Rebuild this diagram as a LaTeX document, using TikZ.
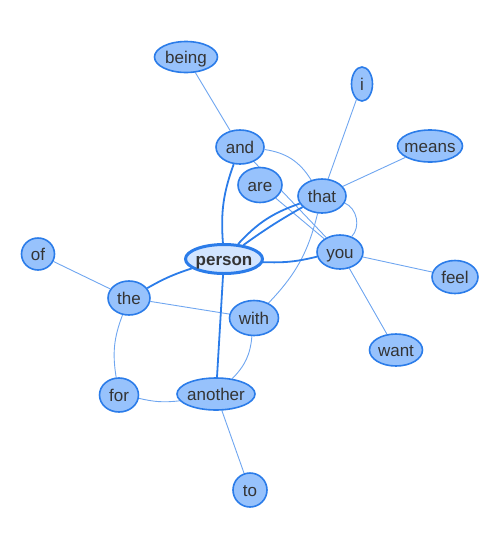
\documentclass[tikz,border=0pt]{standalone}
\usepackage{fontspec}
\setmainfont{Liberation Sans}
\usetikzlibrary{shapes.geometric}
\definecolor{nfill}{HTML}{97C2FC}
\definecolor{nborder}{HTML}{2B7CE9}
\definecolor{pfill}{HTML}{D2E5FF}
\definecolor{thinedge}{HTML}{6FA6F0}
\definecolor{txt}{HTML}{343434}
\pgfdeclarelayer{edges}
\pgfsetlayers{edges,main}
\tikzset{
  word/.style={ellipse, draw=nborder, fill=nfill, line width=1.6pt, inner sep=0pt,
    text height=13pt, text depth=0pt,
    text=txt, font=\fontsize{17}{19}\selectfont},
  hub/.style={word, fill=pfill, line width=3pt, font=\fontsize{17}{19}\selectfont\bfseries},
  strong/.style={draw=nborder, line width=1.8pt},
  weak/.style={draw=thinedge, line width=0.9pt},
}
\newcommand{\wordbox}[1]{\makebox[0pt]{#1}}
\begin{document}
\begin{tikzpicture}[x=1pt,y=-1pt]
\useasboundingbox (0,0) rectangle (500,550);
\node[word, minimum width=63pt, minimum height=31pt] (being) at (186,57) {\wordbox{being}};
\node[word, minimum width=21pt, minimum height=34pt] (i) at (362,84) {\wordbox{i}};
\node[word, minimum width=65pt, minimum height=32pt] (means) at (430,146) {\wordbox{means}};
\node[word, minimum width=48pt, minimum height=34pt] (and) at (240,147) {\wordbox{and}};
\node[word, minimum width=44pt, minimum height=35pt] (are) at (260,185) {\wordbox{are}};
\node[word, minimum width=48pt, minimum height=34pt] (that) at (322,196) {\wordbox{that}};
\node[word, minimum width=33pt, minimum height=32pt] (of) at (38,254) {\wordbox{of}};
\node[word, minimum width=46pt, minimum height=34pt] (you) at (340,252) {\wordbox{you}};
\node[word, minimum width=46pt, minimum height=33pt] (feel) at (455,277) {\wordbox{feel}};
\node[word, minimum width=42pt, minimum height=34pt] (the) at (129,298) {\wordbox{the}};
\node[word, minimum width=49pt, minimum height=35pt] (with) at (254,318) {\wordbox{with}};
\node[word, minimum width=53pt, minimum height=32pt] (want) at (396,350) {\wordbox{want}};
\node[word, minimum width=39pt, minimum height=34pt] (for) at (119,395) {\wordbox{for}};
\node[word, minimum width=78pt, minimum height=32pt] (another) at (216,394) {\wordbox{another}};
\node[word, minimum width=34pt, minimum height=34pt] (to) at (250,490) {\wordbox{to}};
\node[hub, minimum width=77pt, minimum height=29pt] (person) at (224,259) {\wordbox{person}};

\begin{pgfonlayer}{edges}
% thin edges
\path[weak] (being) -- (and);
\path[weak] (i) -- (that);
\path[weak] (means) -- (that);
\path[weak] (and) to[bend left=25] (that);
\path[weak] (that) to[bend left=55] (you);
\path[weak] (and) -- (you);
\path[weak] (are) -- (you);
\path[weak] (that) to[bend left=15] (with);
\path[weak] (you) -- (feel);
\path[weak] (you) -- (want);
\path[weak] (of) -- (the);
\path[weak] (the) -- (with);
\path[weak] (the) to[bend right=15] (for);
\path[weak] (for) to[bend right=10] (another);
\path[weak] (with) to[bend left=20] (another);
\path[weak] (another) -- (to);
% strong edges
\path[strong] (person) to[bend left=12] (and);
\path[strong] (person) to[bend left=14] (that);
\path[strong] (person) to[bend left=3] (that);
\path[strong] (person) to[bend right=8] (you);
\path[strong] (person) to[bend right=6] (the);
\path[strong] (person) -- (another);
\end{pgfonlayer}
\end{tikzpicture}
\end{document}
